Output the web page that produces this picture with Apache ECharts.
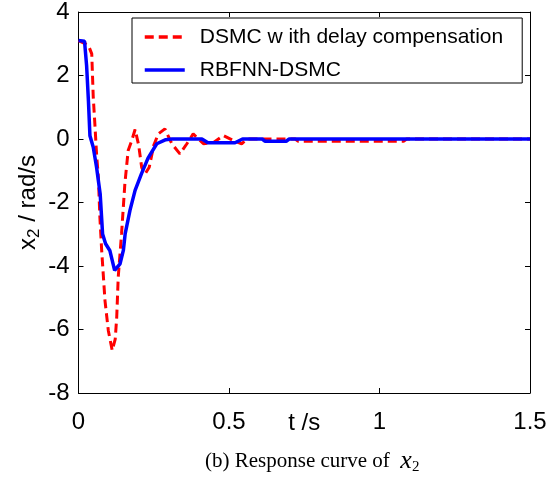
<!DOCTYPE html>
<html style="height: 100%;margin: 0;">
<head>
    <meta charset="UTF-8">
    <title>chart</title>
    <script src="https://cdn.jsdelivr.net/npm/echarts@6/dist/echarts.min.js"></script>
</head>
<body style="height: 100%;margin: 0;background: #fff;">
<div id="chart" style="width: 554px;height: 481px;"></div>
<script>
    // time axis (s) and response values (rad/s)
    var dsmcT = [0, 0.033, 0.044, 0.049, 0.055, 0.06, 0.066, 0.071, 0.077, 0.088, 0.099, 0.112, 0.122, 0.127, 0.132,
        0.143, 0.154, 0.165, 0.177, 0.188, 0.2, 0.21, 0.221, 0.235, 0.25, 0.265, 0.287, 0.31, 0.337, 0.36, 0.381,
        0.415, 0.45, 0.481, 0.515, 0.542, 0.56, 0.72, 0.73, 1.08, 1.09, 1.5];
    var dsmcV = [3.1, 2.95, 2.68, 1.32, 0.37, -0.47, -1.2, -2.46, -3.51, -5.09, -6.03, -6.66, -6.3, -5.61, -4.35,
        -2.99, -1.41, -0.36, -0.05, 0.3, -0.2, -0.9, -1.1, -0.89, -0.2, 0.16, 0.32, -0.15, -0.47, -0.15, 0.16,
        -0.15, -0.1, 0.11, -0.05, -0.15, 0, 0, -0.07, -0.07, 0, 0];
    var rbfT = [0, 0.02, 0.027, 0.033, 0.038, 0.049, 0.06, 0.072, 0.08, 0.09, 0.104, 0.12, 0.138, 0.149, 0.155,
        0.171, 0.188, 0.209, 0.231, 0.26, 0.29, 0.31, 0.41, 0.43, 0.52, 0.545, 0.61, 0.62, 0.69, 0.7, 1.5];
    var rbfV = [3.1, 3.08, 2.3, 1.2, 0.1, -0.26, -0.89, -1.73, -2.99, -3.3, -3.51, -4.14, -3.93, -3.51, -2.99,
        -2.25, -1.62, -1.1, -0.6, -0.15, -0.02, 0, 0, -0.12, -0.12, 0, 0, -0.07, -0.07, 0, 0];
    var seriesNames = ['DSMC w ith delay compensation', 'RBFNN-DSMC'];
    var xTicks = [0, 0.5, 1, 1.5];
    var yTicks = [-8, -6, -4, -2, 0, 2, 4];

    function pairs(t, v) {
        var out = [];
        for (var i = 0; i < t.length; i++) {
            out.push([t[i], v[i]]);
        }
        return out;
    }

    var font = 'Liberation Sans, Arial, sans-serif';
    var serif = 'Liberation Serif, Times New Roman, serif';
    var myChart = echarts.init(document.getElementById('chart'), null, {renderer: 'canvas'});

    var axisLine = {show: true, onZero: false, lineStyle: {color: '#000', width: 1}};
    var tickIn = {show: true, inside: true, length: 5, lineStyle: {color: '#000'}};

    var option = {
        animation: false,
        backgroundColor: '#fff',
        grid: {left: 78.5, right: 24, top: 12, bottom: 88},
        legend: {
            orient: 'vertical',
            left: 132,
            top: 18,
            padding: [7, 19, 1, 11],
            itemWidth: 40,
            itemHeight: 24,
            itemGap: 9,
            backgroundColor: '#fff',
            borderColor: '#000',
            borderWidth: 1,
            borderRadius: 0,
            itemStyle: {opacity: 0},
            lineStyle: {width: 3.5},
            textStyle: {fontFamily: font, fontSize: 21, color: '#000', lineHeight: 24, padding: [0, 0, 0, 10]},
            data: seriesNames
        },
        xAxis: [{
            type: 'value',
            min: xTicks[0],
            max: xTicks[xTicks.length - 1],
            interval: 0.5,
            name: 't /s',
            nameLocation: 'middle',
            nameGap: 18,
            nameMoveOverlap: false,
            nameTextStyle: {fontFamily: font, fontSize: 24, color: '#000'},
            axisLine: axisLine,
            axisTick: tickIn,
            splitLine: {show: false},
            axisLabel: {fontFamily: font, fontSize: 24, color: '#000', margin: 17}
        }, {
            type: 'value',
            position: 'top',
            min: xTicks[0],
            max: xTicks[xTicks.length - 1],
            interval: 0.5,
            axisLine: axisLine,
            axisTick: tickIn,
            splitLine: {show: false},
            axisLabel: {show: false}
        }],
        yAxis: [{
            type: 'value',
            min: yTicks[0],
            max: yTicks[yTicks.length - 1],
            interval: 2,
            name: '{x|x}{sub|2}{n| / rad/s}',
            nameLocation: 'middle',
            nameGap: 36,
            nameMoveOverlap: false,
            nameTextStyle: {
                fontFamily: font, fontSize: 24, color: '#000',
                rich: {
                    x: {fontFamily: font, fontSize: 24, color: '#000'},
                    sub: {fontFamily: font, fontSize: 17, color: '#000', padding: [12, 0, 0, 0]},
                    n: {fontFamily: font, fontSize: 24, color: '#000'}
                }
            },
            axisLine: axisLine,
            axisTick: tickIn,
            splitLine: {show: false},
            axisLabel: {fontFamily: font, fontSize: 24, color: '#000', margin: 9}
        }, {
            type: 'value',
            position: 'right',
            min: yTicks[0],
            max: yTicks[yTicks.length - 1],
            interval: 2,
            axisLine: axisLine,
            axisTick: tickIn,
            splitLine: {show: false},
            axisLabel: {show: false}
        }],
        series: [{
            name: seriesNames[0],
            type: 'line',
            symbol: 'none',
            data: pairs(dsmcT, dsmcV),
            lineStyle: {color: '#ff0000', width: 3, type: [9, 5]},
            itemStyle: {color: '#ff0000'}
        }, {
            name: seriesNames[1],
            type: 'line',
            symbol: 'none',
            data: pairs(rbfT, rbfV),
            lineStyle: {color: '#0000ff', width: 3.5},
            itemStyle: {color: '#0000ff'}
        }],
        graphic: [{
            type: 'text',
            left: 205,
            top: 448,
            style: {
                text: '(b) Response curve of  {x|x}{sub|2}',
                fontFamily: serif,
                fontSize: 21,
                fill: '#000',
                rich: {
                    x: {fontFamily: serif, fontStyle: 'italic', fontSize: 26},
                    sub: {fontFamily: serif, fontSize: 15, padding: [12, 0, 0, 0]}
                }
            }
        }]
    };

    myChart.setOption(option);
</script>
</body>
</html>
